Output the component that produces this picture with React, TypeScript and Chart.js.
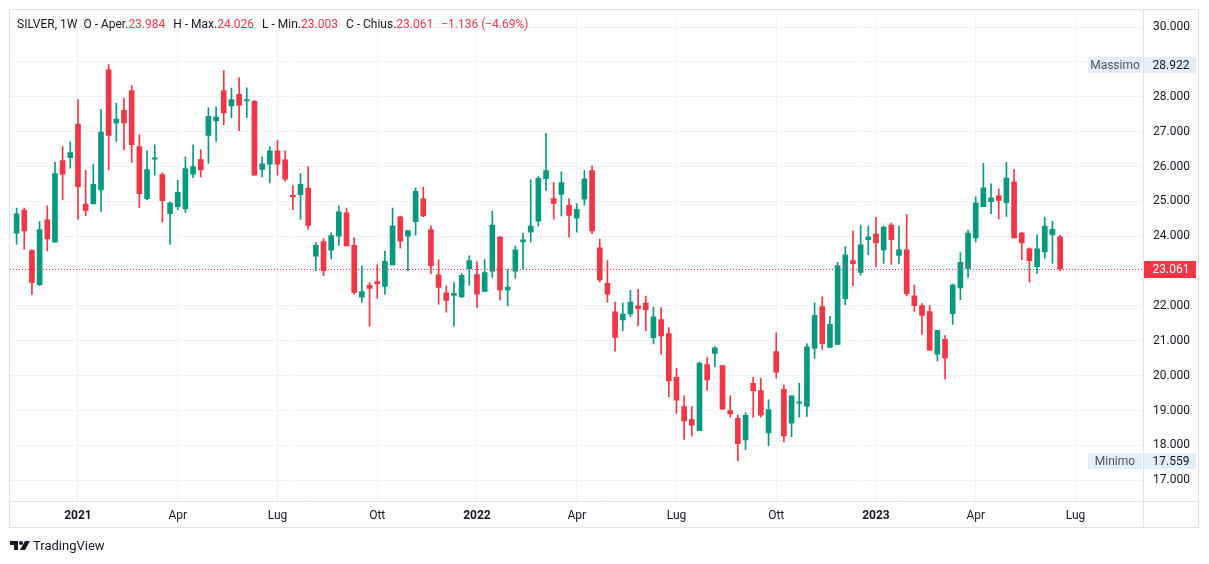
import React, { useEffect, useRef } from 'react';
import { Chart, registerables } from 'chart.js';

Chart.register(...registerables);

// Weekly candles, SILVER 1W, from week of 9 Nov 2020 to week of 19 Jun 2023
const opens = [
  24.09, 24.75, 23.59, 22.61, 24.47, 23.83, 26.17, 26.25, 27.22, 24.92,
  24.93, 25.33, 28.77, 27.25, 27.61, 28.18, 26.57, 25.08, 26.21, 25.77,
  24.65, 24.85, 24.79, 25.78, 26.2, 26.89, 27.31, 28.18, 27.74, 28.07,
  27.88, 27.87, 25.92, 26.07, 26.45, 26.19, 25.17, 25.19, 25.38, 23.43,
  23.85, 23.6, 24.0, 24.67, 23.74, 22.25, 22.59, 22.7, 22.56, 23.18,
  24.56, 24.0, 24.42, 25.07, 24.19, 22.89, 22.38, 22.3, 22.26, 23.06,
  22.9, 22.42, 23.0, 23.98, 22.46, 23.0, 23.84, 24.12, 24.43, 25.65,
  25.08, 25.2, 24.89, 24.52, 25.06, 25.88, 23.67, 22.65, 21.83, 21.6,
  21.77, 22.0, 22.08, 21.09, 21.61, 21.21, 19.95, 19.11, 18.74, 18.42,
  20.32, 20.64, 20.29, 19.0, 18.78, 18.16, 19.78, 19.57, 18.36, 20.69,
  19.61, 18.64, 19.21, 19.12, 20.78, 21.98, 20.81, 20.9, 22.21, 23.3,
  22.96, 23.9, 24.07, 23.61, 24.32, 23.45, 23.61, 22.29, 22.01, 21.84,
  20.62, 21.04, 21.78, 22.52, 23.08, 23.95, 24.85, 24.99, 25.16, 24.96,
  25.56, 24.09, 23.64, 23.13, 23.55, 24.04, 23.984,
];
const highs = [
  24.81, 24.81, 23.62, 24.42, 24.87, 26.12, 26.57, 26.71, 27.92, 25.89,
  26.07, 27.64, 28.922, 27.81, 27.96, 28.32, 26.91, 26.45, 26.62, 25.82,
  24.99, 25.6, 26.28, 26.62, 26.48, 27.68, 27.71, 28.75, 28.25, 28.55,
  28.26, 27.9, 26.28, 26.57, 26.76, 26.45, 25.45, 25.8, 26.0, 23.82,
  23.93, 24.1, 24.87, 24.81, 23.96, 23.15, 22.67, 23.18, 23.57, 24.81,
  24.58, 24.16, 25.38, 25.41, 24.3, 23.32, 22.58, 22.67, 22.93, 23.44,
  23.27, 23.33, 24.72, 23.98, 23.05, 23.72, 24.09, 25.62, 25.71, 26.95,
  25.54, 25.85, 25.08, 24.94, 25.88, 26.02, 23.92, 23.3, 22.11, 22.08,
  22.45, 22.48, 22.28, 21.97, 21.95, 21.38, 20.21, 19.42, 19.11, 20.39,
  20.52, 20.83, 20.29, 19.42, 18.87, 18.94, 19.95, 19.92, 19.31, 21.23,
  19.73, 19.42, 19.78, 20.92, 22.09, 22.26, 21.7, 23.25, 23.7, 24.15,
  24.32, 24.29, 24.54, 24.29, 24.38, 24.29, 24.63, 22.6, 22.07, 22.01,
  21.3, 21.15, 22.63, 23.53, 24.18, 25.13, 26.09, 25.5, 25.36, 26.12,
  25.92, 24.12, 23.67, 24.04, 24.54, 24.43, 24.026,
];
const lows = [
  23.77, 23.63, 22.33, 22.58, 23.58, 23.83, 25.05, 25.95, 24.48, 24.59,
  24.93, 24.71, 25.9, 26.72, 26.48, 26.12, 24.82, 25.05, 25.75, 24.4,
  23.77, 24.76, 24.68, 25.68, 25.7, 26.09, 26.72, 27.2, 27.4, 27.03,
  27.4, 25.75, 25.7, 25.53, 25.75, 25.58, 24.76, 24.48, 24.2, 23.01,
  22.87, 23.35, 23.74, 23.72, 22.33, 22.1, 21.42, 22.22, 22.33, 23.18,
  23.66, 23.01, 24.03, 24.56, 22.92, 22.05, 21.82, 21.42, 22.24, 22.59,
  21.95, 22.42, 22.82, 22.17, 22.0, 22.8, 23.06, 23.84, 24.29, 25.31,
  24.49, 24.58, 23.98, 24.12, 24.89, 24.07, 22.69, 22.11, 20.7, 21.29,
  21.69, 21.43, 21.29, 20.91, 20.62, 19.4, 18.92, 18.17, 18.27, 18.42,
  19.58, 20.25, 19.04, 18.81, 17.559, 17.88, 18.81, 18.81, 17.99, 19.93,
  18.1, 18.25, 18.81, 18.83, 20.5, 20.75, 20.81, 20.9, 22.04, 22.58,
  22.88, 23.47, 23.13, 23.22, 23.19, 23.22, 22.29, 21.84, 21.18, 20.73,
  20.42, 19.9, 21.47, 22.18, 22.82, 23.84, 24.85, 24.65, 24.49, 24.57,
  23.95, 23.33, 22.68, 22.93, 23.36, 23.22, 23.003,
];
const closes = [
  24.64, 24.15, 22.67, 24.19, 23.92, 25.8, 25.78, 26.4, 25.42, 24.74,
  25.49, 26.99, 26.89, 27.36, 27.25, 26.63, 25.22, 25.91, 26.25, 25.02,
  24.95, 25.26, 25.94, 26.0, 25.9, 27.44, 27.42, 27.54, 27.92, 27.76,
  27.92, 25.75, 26.08, 26.45, 26.07, 25.64, 25.13, 25.49, 24.31, 23.74,
  23.01, 24.02, 24.7, 23.72, 22.39, 22.41, 22.5, 22.64, 23.28, 24.3,
  23.86, 24.16, 25.29, 24.58, 23.15, 22.53, 22.16, 22.36, 22.88, 23.3,
  22.34, 22.96, 24.32, 22.46, 22.54, 23.61, 23.9, 24.29, 25.66, 25.88,
  24.94, 25.54, 24.6, 24.77, 25.65, 24.15, 22.75, 22.34, 21.1, 21.77,
  22.11, 21.92, 21.89, 21.69, 21.14, 19.85, 19.3, 18.7, 18.58, 20.36,
  19.88, 20.8, 19.04, 18.9, 18.05, 18.86, 19.57, 18.87, 19.03, 20.1,
  18.27, 19.42, 19.25, 20.83, 21.73, 20.92, 21.47, 23.16, 23.47, 23.21,
  23.75, 23.98, 23.81, 24.26, 23.9, 23.61, 22.35, 22.01, 21.73, 20.73,
  21.3, 20.5, 22.6, 23.25, 24.09, 24.96, 25.39, 25.1, 25.03, 25.67,
  23.95, 23.81, 23.3, 23.64, 24.29, 24.2, 23.061,
];

// Time axis labels (week index of first bar of each period)
const timeTickIndex = [8, 21, 34, 47, 60, 73, 86, 99, 112, 125, 138];
const timeTickLabels = ['2021', 'Apr', 'Lug', 'Ott', '2022', 'Apr', 'Lug', 'Ott', '2023', 'Apr', 'Lug'];
const yearLabels = ['2021', '2022', '2023'];

// Price axis
const priceTicks = [17, 18, 19, 20, 21, 22, 23, 24, 25, 26, 27, 28, 29, 30];
const hiddenPriceLabels = [23, 29];
const lastPrice = 23.061;
const highestPrice = 28.922;
const lowestPrice = 17.559;
const highLabel = 'Massimo';
const lowLabel = 'Minimo';

// Legend header
const symbolText = 'SILVER, 1W';
const headerFields = [
  ['O - Aper.', '23.984'],
  ['H - Max.', '24.026'],
  ['L - Min.', '23.003'],
  ['C - Chius.', '23.061'],
];
const changeText = '\u22121.136 (\u22124.69%)';

const UP = '#089981';
const DOWN = '#f23645';
const TEXT = '#131722';
const GRID = '#f0f3fa';
const BORDER = '#e0e3eb';
const FONT = "Roboto, 'Noto Sans', sans-serif";

export default function App() {
  const canvasRef = useRef<HTMLCanvasElement | null>(null);

  useEffect(() => {
    document.body.style.margin = '0';
    const canvas = canvasRef.current;
    if (!canvas) return;

    const idx = opens.map((_, i) => i);
    const colors = idx.map((i) => (closes[i] >= opens[i] ? UP : DOWN));

    const overlay = {
      id: 'tvOverlay',
      afterDraw(chart: any) {
        const ctx = chart.ctx as CanvasRenderingContext2D;
        const area = chart.chartArea;
        const y = chart.scales.y;
        ctx.save();

        // price line
        const py = Math.round(y.getPixelForValue(lastPrice)) + 0.5;
        ctx.strokeStyle = DOWN;
        ctx.lineWidth = 1;
        ctx.setLineDash([1, 2]);
        ctx.beginPath();
        ctx.moveTo(area.left, py);
        ctx.lineTo(area.right, py);
        ctx.stroke();
        ctx.setLineDash([]);

        // frame and separators
        ctx.strokeStyle = BORDER;
        ctx.lineWidth = 1;
        ctx.strokeRect(9.5, 9.5, 1189, 518);
        ctx.beginPath();
        ctx.moveTo(area.right + 0.5, 10);
        ctx.lineTo(area.right + 0.5, 528);
        ctx.moveTo(10, area.bottom + 0.5);
        ctx.lineTo(1199, area.bottom + 0.5);
        ctx.stroke();

        ctx.font = `12px ${FONT}`;
        ctx.textBaseline = 'middle';

        // max / min labels
        const drawHL = (value: number, label: string) => {
          const cy = Math.round(y.getPixelForValue(value));
          ctx.fillStyle = '#e3effd';
          ctx.fillRect(area.right + 1, cy - 8, 52, 16);
          const lw = 54;
          ctx.fillRect(area.right - 1 - lw, cy - 8, lw, 16);
          ctx.fillStyle = TEXT;
          ctx.textAlign = 'center';
          ctx.fillText(value.toFixed(3), area.right + 28, cy + 0.5);
          ctx.fillStyle = '#50535e';
          ctx.fillText(label, area.right - 1 - lw / 2, cy + 0.5);
        };
        drawHL(highestPrice, highLabel);
        drawHL(lowestPrice, lowLabel);

        // last price label
        const ly = Math.round(y.getPixelForValue(lastPrice));
        ctx.fillStyle = DOWN;
        ctx.fillRect(area.right + 1, ly - 8, 52, 17);
        ctx.fillStyle = '#ffffff';
        ctx.font = `12px ${FONT}`;
        ctx.textAlign = 'center';
        ctx.fillText(lastPrice.toFixed(3), area.right + 28, ly + 0.5);

        // header legend
        ctx.font = `12px ${FONT}`;
        ctx.textAlign = 'left';
        let x = 17;
        const hy = 25;
        ctx.fillStyle = TEXT;
        ctx.fillText(symbolText, x, hy);
        x += ctx.measureText(symbolText).width + 6;
        headerFields.forEach(([k, v]) => {
          ctx.fillStyle = TEXT;
          ctx.fillText(k, x, hy);
          x += ctx.measureText(k).width;
          ctx.fillStyle = DOWN;
          ctx.fillText(v, x, hy);
          x += ctx.measureText(v).width + 8;
        });
        ctx.fillStyle = DOWN;
        ctx.fillText(changeText, x, hy);

        // TradingView logo
        ctx.fillStyle = TEXT;
        ctx.fillRect(10, 541, 8, 4);
        ctx.fillRect(14, 541, 4, 9);
        ctx.beginPath();
        ctx.arc(21, 543, 2, 0, Math.PI * 2);
        ctx.fill();
        ctx.beginPath();
        ctx.moveTo(25, 541);
        ctx.lineTo(30, 541);
        ctx.lineTo(25, 550);
        ctx.lineTo(20, 550);
        ctx.closePath();
        ctx.fill();
        ctx.font = `13px ${FONT}`;
        ctx.textAlign = 'left';
        ctx.fillText('TradingView', 33, 546.5);

        ctx.restore();
      },
    };

    const chart = new Chart(canvas, {
      type: 'bar',
      data: {
        datasets: [
          {
            label: 'body',
            data: idx.map((i) => ({ x: i, y: [opens[i], closes[i]] })) as any,
            backgroundColor: colors,
            borderWidth: 0,
            barThickness: 5,
            minBarLength: 1,
            grouped: false,
            order: 1,
          } as any,
          {
            label: 'wick',
            data: idx.map((i) => ({ x: i, y: [lows[i], highs[i]] })) as any,
            backgroundColor: colors,
            borderWidth: 0,
            barThickness: 1,
            grouped: false,
            order: 2,
          } as any,
        ],
      },
      plugins: [overlay],
      options: {
        responsive: false,
        animation: false,
        devicePixelRatio: 1,
        layout: { padding: { left: 10, top: 10, right: 10, bottom: 36 } },
        plugins: { legend: { display: false }, tooltip: { enabled: false } },
        scales: {
          x: {
            type: 'linear',
            min: -0.86,
            max: 146.8,
            offset: false,
            grid: { color: GRID, offset: false, drawTicks: false },
            border: { display: false },
            afterBuildTicks: (scale: any) => {
              scale.ticks = timeTickIndex.map((v) => ({ value: v }));
            },
            afterFit: (scale: any) => {
              scale.height = 27;
            },
            ticks: {
              autoSkip: false,
              maxRotation: 0,
              padding: 8,
              color: TEXT,
              font: (c: any) => ({
                family: FONT,
                size: 12,
                weight: c.tick && yearLabels.includes(c.tick.label) ? 'bold' : 'normal',
              }),
              callback: (v: any) => {
                const k = timeTickIndex.indexOf(Math.round(Number(v)));
                return k >= 0 ? timeTickLabels[k] : '';
              },
            },
          },
          y: {
            type: 'linear',
            position: 'right',
            min: 16.405,
            max: 30.283,
            beginAtZero: false,
            grid: { color: GRID, drawTicks: false },
            border: { display: false },
            afterBuildTicks: (scale: any) => {
              scale.ticks = priceTicks.map((v) => ({ value: v }));
            },
            afterFit: (scale: any) => {
              scale.width = 56;
            },
            ticks: {
              padding: 10,
              color: TEXT,
              font: { family: FONT, size: 12 },
              callback: (v: any) => (hiddenPriceLabels.includes(Number(v)) ? '' : Number(v).toFixed(3)),
            },
          },
        },
      } as any,
    });

    return () => chart.destroy();
  }, []);

  return (
    <div style={{ position: 'absolute', left: 0, top: 0, width: 1209, height: 564, background: '#fff' }}>
      <canvas ref={canvasRef} width={1209} height={564} />
    </div>
  );
}
